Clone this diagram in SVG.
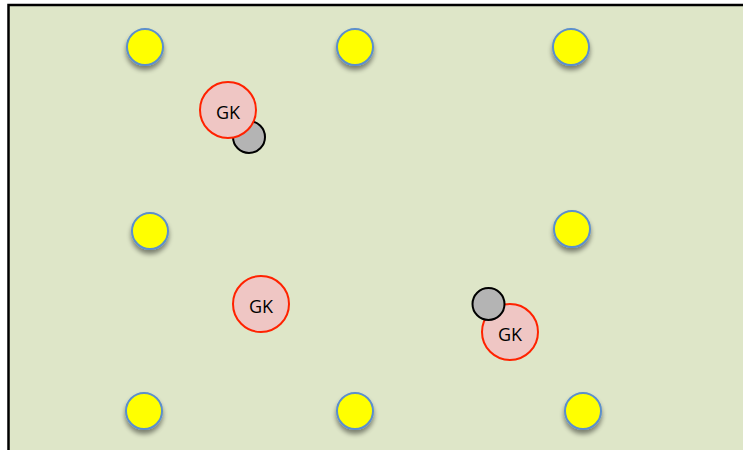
<svg xmlns="http://www.w3.org/2000/svg" width="743" height="450" viewBox="0 0 743 450">
<defs>
<filter id="sh" x="-50%" y="-50%" width="200%" height="220%">
<feGaussianBlur in="SourceAlpha" stdDeviation="2.5"/>
<feOffset dx="0" dy="4" result="b"/>
<feComponentTransfer><feFuncA type="linear" slope="0.45"/></feComponentTransfer>
<feMerge><feMergeNode/><feMergeNode in="SourceGraphic"/></feMerge>
</filter>
<style>
.cone{fill:#ffff00;stroke:#5b8fcc;stroke-width:2;filter:url(#sh)}
.gk{fill:#efc6c4;stroke:#ff2200;stroke-width:2}
.ball{fill:#b4b4b4;stroke:#000;stroke-width:2}
.lbl{font-family:"Open Sans","Liberation Sans",sans-serif;font-size:18px;fill:#000;text-anchor:middle;dominant-baseline:central}
</style>
</defs>
<rect width="743" height="450" fill="#ffffff"/>
<rect x="8.5" y="5" width="740" height="450" fill="#dee6c8"/>
<path d="M8.5 450V5H743" fill="none" stroke="#000" stroke-width="2.5"/>
<g id="cones">
<circle id="c1" class="cone" cx="145" cy="47" r="18"/>
<circle id="c2" class="cone" cx="355" cy="47" r="18"/>
<circle id="c3" class="cone" cx="571" cy="47" r="18"/>
<circle id="c4" class="cone" cx="150" cy="231" r="18"/>
<circle id="c5" class="cone" cx="572" cy="229" r="18"/>
<circle id="c6" class="cone" cx="144" cy="411" r="18"/>
<circle id="c7" class="cone" cx="355" cy="411" r="18"/>
<circle id="c8" class="cone" cx="583" cy="411" r="18"/>
</g>
<g id="ball1"><circle class="ball" cx="249" cy="137" r="16"/></g>
<g id="gk1"><circle class="gk" cx="228" cy="110" r="28"/><text class="lbl" x="228" y="112">GK</text></g>
<g id="gk2"><circle class="gk" cx="261" cy="304" r="28"/><text class="lbl" x="261" y="306">GK</text></g>
<g id="gk3"><circle class="gk" cx="510" cy="332" r="28"/><text class="lbl" x="510" y="334">GK</text></g>
<g id="ball2"><circle class="ball" cx="488.5" cy="304" r="16"/></g>
<g id="connectors"/>
</svg>
